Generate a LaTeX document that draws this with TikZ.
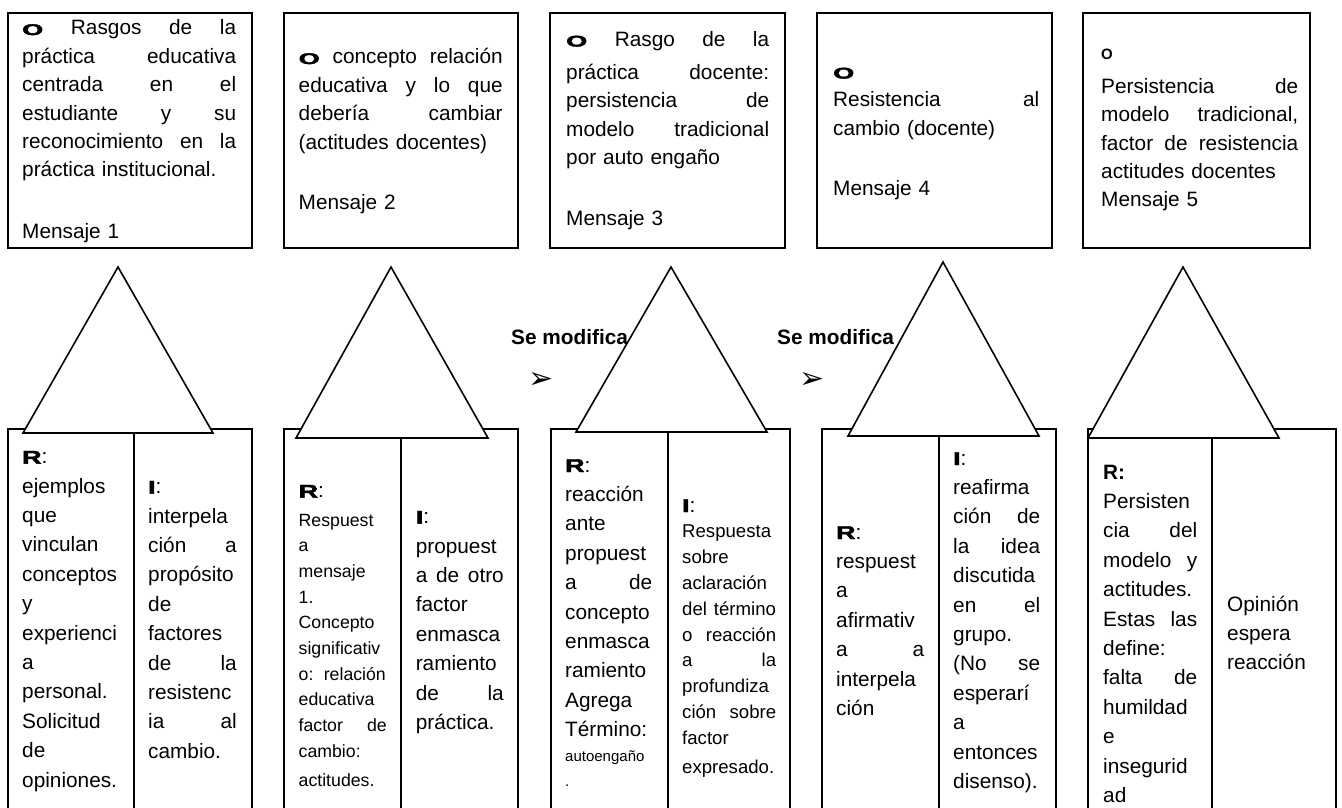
\documentclass[tikz,border=0pt]{standalone}
\usepackage{fontspec}
\setmainfont{Liberation Sans}
\newfontfamily\dejavu{DejaVu Sans}
\newfontfamily\heavyfont{Liberation Sans}[FakeBold=2.2]
\usepackage{graphicx}
\usepackage{tikz}

\newlength{\jlw}
\newcommand{\jl}[1]{\leavevmode\hbox to\jlw{\spaceskip=0.25em plus 1fil\relax #1}}
\newcommand{\bigO}{\scalebox{1.75}[1]{\fontsize{15.5}{15.5}\selectfont\heavyfont\bfseries O}}
\newcommand{\bigL}[1]{\scalebox{1.45}[1]{\fontsize{18.5}{18.5}\selectfont\heavyfont\bfseries #1}}

\begin{document}
\begin{tikzpicture}[x=1pt, y=-1pt]
    \tikzstyle{box}=[line width=2.2pt]
    \tikzstyle{tri}=[line width=1.6pt, fill=white]
    \tikzstyle{txt}=[anchor=base west, inner sep=0pt, align=left]
    \tikzstyle{otext}=[txt, font=\fontsize{20.8}{28.4}\selectfont]
    \tikzstyle{ctext}=[txt, font=\fontsize{20.8}{29.4}\selectfont]
    \tikzstyle{modtext}=[txt, font=\fontsize{20.8}{24}\selectfont\bfseries]
    \tikzset{cw/.style={text width=#1, execute at begin node={\setlength{\jlw}{#1}}}}
\useasboundingbox (0,0) rectangle (1342,808);
\clip (0,0) rectangle (1342,808);

\foreach \xa/\xb in {8/252, 284/518, 550/785, 817/1052, 1083/1310}
    \draw[box] (\xa,13) rectangle (\xb,248);
\foreach \xa/\xm/\xb in {8/134/252, 284/401/518, 551/668/790, 822/939/1056, 1088/1212/1336}
{
    \draw[box] (\xa,812) |- (\xb,429) -- (\xb,812);
    \draw[box] (\xm,429) -- (\xm,812);
}
\foreach \ax/\ay/\xa/\xb/\by in {118/267/23/213/433, 391/267/296/488/438, 671/267/576/767/432, 943/262/848/1039/436, 1183/267/1088/1279/438}
    \filldraw[tri] (\ax,\ay) -- (\xb,\by) -- (\xa,\by) -- cycle;

% mensajes
\node[otext, cw=214pt] (o1) at (22,35) {\jl{\bigO{} Rasgos de la}\\ \jl{práctica educativa}\\ \jl{centrada en el}\\ \jl{estudiante y su}\\ \jl{reconocimiento en la}\\ práctica institucional.\\[33.3pt] Mensaje 1};
\node[otext, cw=204pt] (o2) at (298.5,64) {\jl{\bigO{} concepto relación}\\ \jl{educativa y lo que}\\ \jl{debería cambiar}\\ (actitudes docentes)\\[32.4pt] Mensaje 2};
\node[otext, cw=203pt] (o3) at (566,46.5) {\jl{\bigO{} Rasgo de la}\\[4.5pt] \jl{práctica docente:}\\ \jl{persistencia de}\\ \jl{modelo tradicional}\\ por auto engaño\\[33pt] Mensaje 3};
\node[otext, cw=206pt] (o4) at (833,78.5) {\bigO\\ \jl{Resistencia al}\\ cambio (docente)\\[31.8pt] Mensaje 4};
\node[otext, cw=197pt] (o5) at (1101,60) {{\fontsize{15}{15}\selectfont\bfseries O}\\[5pt] \jl{Persistencia de}\\ \jl{modelo tradicional,}\\ \jl{factor de resistencia}\\ actitudes docentes\\ Mensaje 5};

% respuestas e interpelaciones
\node[ctext, cw=98pt] (r1) at (22,463.7) {\bigL{R}:\\ ejemplos\\ que\\ vinculan\\ conceptos\\ y\\ experienci\\ a\\ personal.\\ Solicitud\\ de\\ opiniones.};
\node[ctext, cw=88.5pt] (i1) at (148,493.7) {\bigL{I}:\\ interpela\\ \jl{ción a}\\ propósito\\ de\\ factores\\ \jl{de la}\\ resistenc\\ \jl{ia al}\\ cambio.};
\node[ctext, cw=88pt] (r2) at (298.5,497.7) {\bigL{R}:\\[2.6pt] \fontsize{17.7}{25.7}\selectfont Respuest\\ a\\ mensaje\\ 1.\\ Concepto\\ significativ\\ \jl{o: relación}\\ educativa\\ \jl{factor de}\\ cambio:\\ actitudes.};
\node[ctext, cw=88pt] (i2) at (415.6,523.7) {\bigL{I}:\\ propuest\\ \jl{a de otro}\\ factor\\ enmasca\\ ramiento\\ \jl{de la}\\ práctica.};
\node[ctext, cw=87pt] (r3) at (565,472) {\bigL{R}:\\ reacción\\ ante\\ propuest\\ \jl{a de}\\ concepto\\ enmasca\\ ramiento\\ Agrega\\ Término:\par \fontsize{15}{25}\selectfont autoengaño\\ .\par};
\node[ctext, cw=94pt] (i3) at (682,512) {\bigL{I}:\\ \fontsize{18.6}{25.8}\selectfont Respuesta\\ sobre\\ aclaración\\ \mbox{del término}\\ \jl{o reacción}\\ \jl{a la}\\ profundiza\\ \jl{ción sobre}\\ factor\\ expresado.};
\node[ctext, cw=88pt] (r4) at (836,539) {\bigL{R}:\\ respuest\\ a\\ afirmativ\\ \jl{a a}\\ interpela\\ ción};
\node[ctext, cw=87pt] (i4) at (953,465) {\bigL{I}:\\ reafirma\\ \jl{ción de}\\ \jl{la idea}\\ discutida\\ \jl{en el}\\ grupo.\\ \jl{(No se}\\ esperarí\\ a\\ entonces\\ disenso).};
\node[ctext, cw=94pt] (r5) at (1103,479) {\textbf{R:}\\ Persisten\\ \jl{cia del}\\ \jl{modelo y}\\ actitudes.\\ \jl{Estas las}\\ define:\\ \jl{falta de}\\ humildad\\ e\\ insegurid\\ ad};
\node[ctext, cw=90pt] (i5) at (1227,611) {Opinión\\ espera\\ reacción};

\node[modtext] (mod1) at (511,344) {Se modifica};
\node[modtext] (mod2) at (777,344) {Se modifica};
\node[inner sep=0pt, font=\dejavu\fontsize{30}{30}\selectfont] (arr1) at (541,380) {➢};
\node[inner sep=0pt, font=\dejavu\fontsize{30}{30}\selectfont] (arr2) at (812,380) {➢};
\end{tikzpicture}
\end{document}
